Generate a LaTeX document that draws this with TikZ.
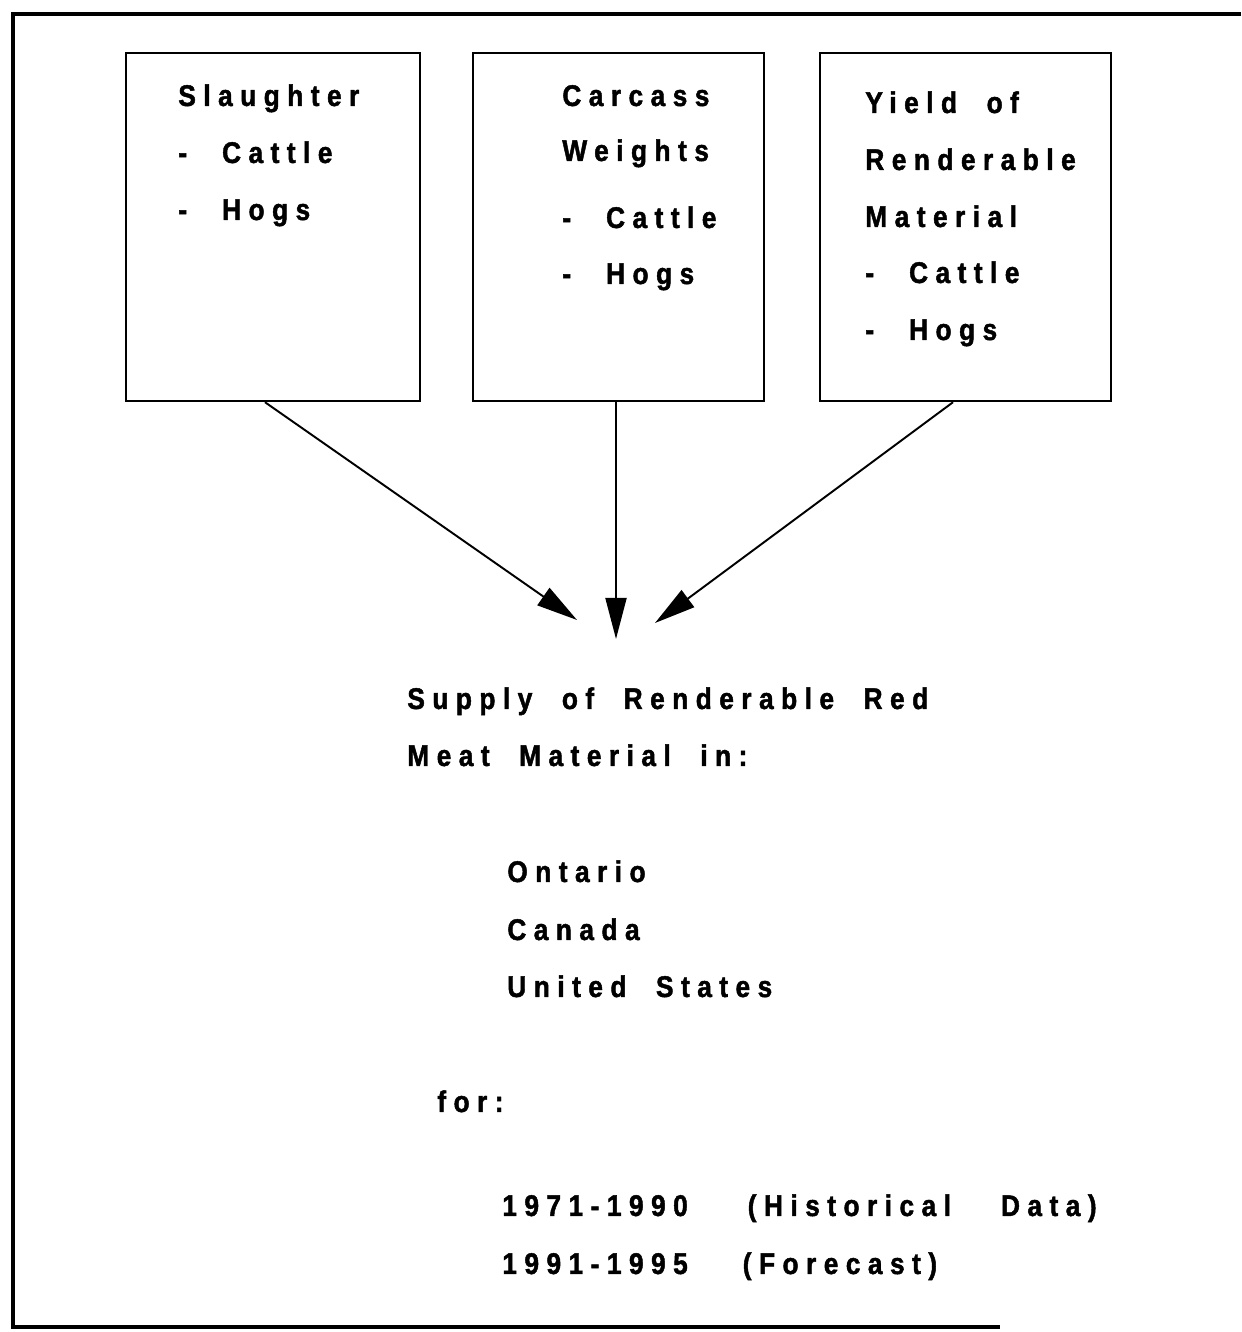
\documentclass[tikz,border=0pt]{standalone}
\usepackage{fontspec}
\newfontfamily\scanfont[FakeStretch=0.88,LetterSpace=25,WordSpace=2,FakeBold=1.5]{Liberation Sans}
\usetikzlibrary{arrows.meta}

\begin{document}
\begin{tikzpicture}[
    box/.style={rectangle, draw, line width=1.4pt, minimum height=6.96cm},
    txt/.style={anchor=base west, inner sep=0pt, font=\scanfont\bfseries\fontsize{17pt}{20pt}\selectfont},
    feed/.style={line width=1.1pt, -{Triangle[length=0.82cm, width=0.42cm]}}]
    \useasboundingbox (0,0) rectangle (24.82,26.64);

    % open frame round the page
    \draw[line width=2.3pt] (24.82,26.36) -- (0.26,26.36) -- (0.26,0.10) -- (20.0,0.10);

    \node[box, minimum width=5.88cm] (slaughter) at (5.46, 22.10) {};
    \node[box, minimum width=5.82cm] (carcass) at (12.37, 22.10) {};
    \node[box, minimum width=5.82cm] (yield) at (19.31, 22.10) {};

    \node[txt] (s1) at (3.56, 24.52) {Slaughter};
    \node[txt] (s2) at (3.56, 23.38) {-\hspace{0.7cm}Cattle};
    \node[txt] (s3) at (3.56, 22.24) {-\hspace{0.7cm}Hogs};

    \node[txt] (c1) at (11.24, 24.52) {Carcass};
    \node[txt] (c2) at (11.24, 23.42) {Weights};
    \node[txt] (c3) at (11.24, 22.08) {-\hspace{0.7cm}Cattle};
    \node[txt] (c4) at (11.24, 20.96) {-\hspace{0.7cm}Hogs};

    \node[txt] (y1) at (17.30, 24.38) {Yield of};
    \node[txt] (y2) at (17.30, 23.24) {Renderable};
    \node[txt] (y3) at (17.30, 22.10) {Material};
    \node[txt] (y4) at (17.30, 20.98) {-\hspace{0.7cm}Cattle};
    \node[txt] (y5) at (17.30, 19.84) {-\hspace{0.7cm}Hogs};

    \coordinate (tipL) at (11.54, 14.24);
    \coordinate (tipM) at (12.32, 13.86);
    \coordinate (tipR) at (13.10, 14.18);

    \draw[feed] ([xshift=-0.16cm]slaughter.south) -- (tipL);
    \draw[feed] ([xshift=-0.05cm]carcass.south) -- (tipM);
    \draw[feed] ([xshift=-0.25cm]yield.south) -- (tipR);

    \node[txt] (supply) at (8.14, 12.46) {Supply of Renderable Red};
    \node[txt] (meat) at (8.14, 11.32) {Meat Material in:};
    \node[txt] (ont) at (10.14, 9.00) {Ontario};
    \node[txt] (can) at (10.14, 7.84) {Canada};
    \node[txt] (us) at (10.14, 6.70) {United States};
    \node[txt] (for) at (8.74, 4.40) {for:};
    \node[txt] (hist) at (10.04, 2.32) {1971-1990\hspace{1.2cm}(Historical\hspace{1.0cm}Data)};
    \node[txt] (fcst) at (10.04, 1.16) {1991-1995\hspace{1.1cm}(Forecast)};
\end{tikzpicture}
\end{document}
